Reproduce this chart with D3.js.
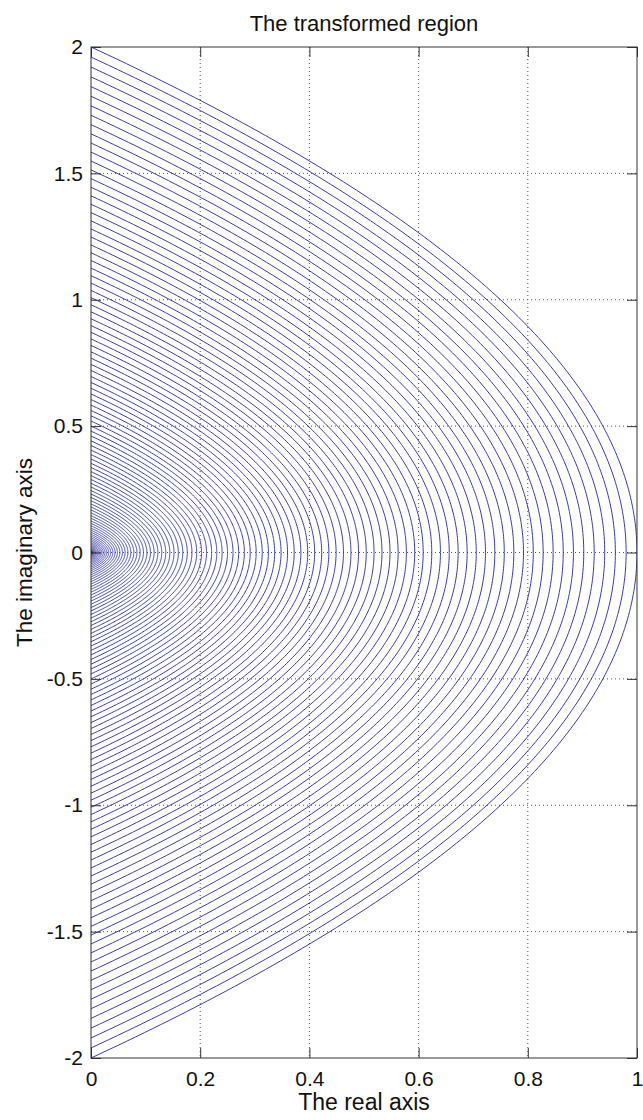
<!DOCTYPE html>
<html>
<head>
<meta charset="utf-8">
<script src="https://cdn.jsdelivr.net/npm/d3@7"></script>
<style>
  html, body { margin: 0; padding: 0; background: #ffffff; }
  svg { display: block; }
  text { font-family: "Liberation Sans", Arial, Helvetica, sans-serif; fill: #111; }
</style>
</head>
<body>
<div id="chart"></div>
<script>
// ---- data ----
const chartTitle = "The transformed region";
const xLabel = "The real axis";
const yLabel = "The imaginary axis";
const xTicks = [0, 0.2, 0.4, 0.6, 0.8, 1];
const xTickLabels = ["0", "0.2", "0.4", "0.6", "0.8", "1"];
const yTicks = [-2, -1.5, -1, -0.5, 0, 0.5, 1, 1.5, 2];
const yTickLabels = ["-2", "-1.5", "-1", "-0.5", "0", "0.5", "1", "1.5", "2"];
const xDomain = [0, 1];
const yDomain = [-2, 2];
// real parts c of the vertical lines Re z = c that are mapped by w = z^2
const lineParams = [
  0.00, 0.01, 0.02, 0.03, 0.04, 0.05, 0.06, 0.07, 0.08, 0.09,
  0.10, 0.11, 0.12, 0.13, 0.14, 0.15, 0.16, 0.17, 0.18, 0.19,
  0.20, 0.21, 0.22, 0.23, 0.24, 0.25, 0.26, 0.27, 0.28, 0.29,
  0.30, 0.31, 0.32, 0.33, 0.34, 0.35, 0.36, 0.37, 0.38, 0.39,
  0.40, 0.41, 0.42, 0.43, 0.44, 0.45, 0.46, 0.47, 0.48, 0.49,
  0.50, 0.51, 0.52, 0.53, 0.54, 0.55, 0.56, 0.57, 0.58, 0.59,
  0.60, 0.61, 0.62, 0.63, 0.64, 0.65, 0.66, 0.67, 0.68, 0.69,
  0.70, 0.71, 0.72, 0.73, 0.74, 0.75, 0.76, 0.77, 0.78, 0.79,
  0.80, 0.81, 0.82, 0.83, 0.84, 0.85, 0.86, 0.87, 0.88, 0.89,
  0.90, 0.91, 0.92, 0.93, 0.94, 0.95, 0.96, 0.97, 0.98, 0.99,
  1.00
];

// ---- layout ----
const W = 643, H = 1120;
const margin = { left: 91, right: 6, top: 47, bottom: 62 };
const pw = W - margin.left - margin.right;
const ph = H - margin.top - margin.bottom;

const svg = d3.select("#chart").append("svg")
  .attr("width", W).attr("height", H)
  .attr("viewBox", `0 0 ${W} ${H}`);
svg.append("rect").attr("width", W).attr("height", H).attr("fill", "#fff");

const x = d3.scaleLinear().domain(xDomain).range([0, pw]);
const y = d3.scaleLinear().domain(yDomain).range([ph, 0]);

const g = svg.append("g").attr("transform", `translate(${margin.left},${margin.top})`);

svg.append("defs").append("clipPath").attr("id", "clip")
  .append("rect").attr("x", 0).attr("y", 0).attr("width", pw).attr("height", ph);

// grid (dotted)
const grid = g.append("g").attr("class", "grid");
grid.selectAll("line.gx").data(xTicks.filter(d => d > xDomain[0] && d < xDomain[1]))
  .enter().append("line")
  .attr("x1", d => x(d)).attr("x2", d => x(d))
  .attr("y1", 0).attr("y2", ph)
  .attr("stroke", "#555").attr("stroke-width", 1)
  .attr("stroke-dasharray", "1,3");
grid.selectAll("line.gy").data(yTicks.filter(d => d > yDomain[0] && d < yDomain[1]))
  .enter().append("line")
  .attr("x1", 0).attr("x2", pw)
  .attr("y1", d => y(d)).attr("y2", d => y(d))
  .attr("stroke", "#555").attr("stroke-width", 1)
  .attr("stroke-dasharray", "1,3");

// curves: image of Re z = c under w = z^2, for Im z = t in [-c, c] (Re w >= 0)
const nSamp = 240;
const curves = lineParams.map(c => {
  const pts = [];
  for (let i = 0; i <= nSamp; i++) {
    const t = -c + (2 * c) * i / nSamp;
    pts.push([c * c - t * t, 2 * c * t]);
  }
  return pts;
});
const line = d3.line().x(d => x(d[0])).y(d => y(d[1]));
g.append("g").attr("clip-path", "url(#clip)")
  .selectAll("path").data(curves).enter().append("path")
  .attr("d", line)
  .attr("fill", "none")
  .attr("stroke", "#3c3cab")
  .attr("stroke-width", 1);

// axes
const tickLen = 10;
const axisColor = "#333";
function styleAxis(sel) {
  sel.select(".domain").remove();
  sel.selectAll(".tick line").attr("stroke", axisColor);
  sel.selectAll(".tick text").attr("font-size", 21).attr("fill", "#111")
    .style("font-family", '"Liberation Sans", Arial, Helvetica, sans-serif');
}
g.append("g").attr("transform", `translate(0,${ph})`)
  .call(d3.axisBottom(x).tickValues(xTicks).tickFormat((d, i) => xTickLabels[i])
    .tickSizeInner(-tickLen).tickSizeOuter(0).tickPadding(13))
  .call(styleAxis);
g.append("g")
  .call(d3.axisTop(x).tickValues(xTicks).tickFormat(() => "")
    .tickSizeInner(-tickLen).tickSizeOuter(0))
  .call(styleAxis);
g.append("g")
  .call(d3.axisLeft(y).tickValues(yTicks).tickFormat((d, i) => yTickLabels[i])
    .tickSizeInner(-tickLen).tickSizeOuter(0).tickPadding(8))
  .call(styleAxis);
g.append("g").attr("transform", `translate(${pw},0)`)
  .call(d3.axisRight(y).tickValues(yTicks).tickFormat(() => "")
    .tickSizeInner(-tickLen).tickSizeOuter(0))
  .call(styleAxis);

// box
g.append("rect").attr("x", 0).attr("y", 0).attr("width", pw).attr("height", ph)
  .attr("fill", "none").attr("stroke", axisColor).attr("stroke-width", 1);

// title and labels
svg.append("text").attr("x", margin.left + pw / 2).attr("y", 31)
  .attr("text-anchor", "middle").attr("font-size", 22).text(chartTitle);
svg.append("text").attr("x", margin.left + pw / 2).attr("y", 1110)
  .attr("text-anchor", "middle").attr("font-size", 23).text(xLabel);
svg.append("text")
  .attr("transform", `translate(32,${margin.top + ph / 2}) rotate(-90)`)
  .attr("text-anchor", "middle").attr("font-size", 22.5).text(yLabel);
</script>
</body>
</html>
